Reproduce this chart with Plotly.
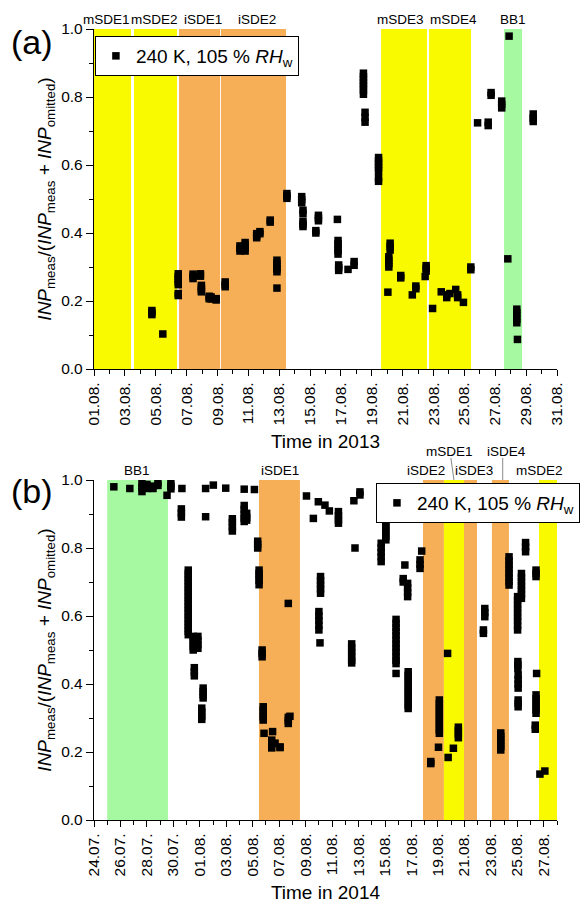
import pandas as pd
import plotly.graph_objects as go

# ---------------- Panel (a): 2013 campaign ----------------
# sampling times (one per group of consecutive samples) and measured ratios
time_2013 = [
    "2013-08-04 18:00", "2013-08-05 11:00", "2013-08-06 11:00", "2013-08-06 11:00",
    "2013-08-07 10:00", "2013-08-07 21:30", "2013-08-07 23:00", "2013-08-08 11:00",
    "2013-08-08 14:00", "2013-08-08 22:00", "2013-08-09 12:00", "2013-08-10 11:00",
    "2013-08-10 19:00", "2013-08-11 13:00", "2013-08-11 18:00", "2013-08-12 10:00",
    "2013-08-12 20:30", "2013-08-12 20:30", "2013-08-13 12:00", "2013-08-14 11:00",
    "2013-08-14 13:00", "2013-08-15 13:00", "2013-08-15 09:00", "2013-08-16 18:30",
    "2013-08-16 19:30", "2013-08-16 20:30", "2013-08-17 11:00", "2013-08-17 20:30",
    "2013-08-18 11:00", "2013-08-18 13:30", "2013-08-19 10:30", "2013-08-19 10:30",
    "2013-08-20 04:30", "2013-08-20 02:30", "2013-08-20 01:00", "2013-08-20 21:00",
    "2013-08-21 15:00", "2013-08-21 20:30", "2013-08-22 12:30", "2013-08-22 11:00",
    "2013-08-22 22:30", "2013-08-23 12:00", "2013-08-23 20:30", "2013-08-24 01:30",
    "2013-08-24 10:30", "2013-08-24 13:30", "2013-08-24 22:30", "2013-08-25 10:00",
    "2013-08-25 20:30", "2013-08-26 13:00", "2013-08-26 17:30", "2013-08-27 10:00",
    "2013-08-27 21:30", "2013-08-27 19:30", "2013-08-28 09:30", "2013-08-28 10:30",
    "2013-08-29 11:00",
]
ratio_2013 = [
    [0.172, 0.166, 0.160], [0.103], [0.280, 0.272, 0.264, 0.256, 0.248], [0.222, 0.216],
    [0.279, 0.272, 0.266], [0.280, 0.273], [0.246, 0.240, 0.233, 0.227], [0.214, 0.207],
    [0.212, 0.206], [0.207, 0.203], [0.256, 0.248, 0.242], [0.362, 0.355, 0.347],
    [0.372, 0.364, 0.355, 0.347], [0.398, 0.392, 0.386], [0.404, 0.398], [0.438, 0.432],
    [0.320, 0.311, 0.302, 0.294, 0.286], [0.238], [0.516, 0.509, 0.502], [0.507, 0.498, 0.489],
    [0.467, 0.458, 0.435, 0.426, 0.419], [0.452, 0.444, 0.436], [0.407, 0.400], [0.440],
    [0.378, 0.368, 0.358, 0.348, 0.338], [0.306, 0.298, 0.290], [0.293], [0.316, 0.305],
    [0.870, 0.860, 0.850, 0.840, 0.830, 0.820, 0.808], [0.755, 0.740, 0.726],
    [0.622, 0.612, 0.602, 0.592, 0.582], [0.562, 0.552],
    [0.370, 0.360, 0.350], [0.330, 0.320, 0.310, 0.300], [0.226], [0.275, 0.268],
    [0.218], [0.244, 0.236], [0.304, 0.296, 0.288], [0.272],
    [0.178], [0.227], [0.218, 0.210], [0.222],
    [0.234], [0.218, 0.210], [0.196], [0.300, 0.292],
    [0.724], [0.726, 0.716], [0.813, 0.805], [0.788, 0.778, 0.768],
    [0.979], [0.324], [0.176, 0.166, 0.156, 0.146, 0.136], [0.087],
    [0.750, 0.738, 0.728],
]

events_2013 = ["mSDE1", "mSDE2", "iSDE1", "iSDE2", "mSDE3", "mSDE4", "BB1"]
event_start_2013 = ["2013-08-01 00:00", "2013-08-03 14:10", "2013-08-06 12:15", "2013-08-09 05:30",
                    "2013-08-19 14:25", "2013-08-22 17:00", "2013-08-27 13:40"]
event_end_2013 = ["2013-08-03 09:35", "2013-08-06 09:05", "2013-08-09 04:05", "2013-08-13 10:35",
                  "2013-08-22 13:55", "2013-08-25 10:20", "2013-08-28 17:45"]

# ---------------- Panel (b): 2014 campaign ----------------
time_2014 = [
    "2014-07-25 12:00", "2014-07-26 17:00", "2014-07-27 15:00", "2014-07-28 00:00",
    "2014-07-28 11:00", "2014-07-28 20:00", "2014-07-29 12:30", "2014-07-29 19:30",
    "2014-07-30 15:30", "2014-07-30 14:30", "2014-07-31 03:00", "2014-07-31 12:00",
    "2014-07-31 20:30", "2014-07-31 14:00", "2014-08-01 06:00", "2014-08-01 03:30",
    "2014-08-01 10:30", "2014-08-01 10:30", "2014-08-02 00:30", "2014-08-02 23:00",
    "2014-08-03 11:00", "2014-08-04 08:30", "2014-08-05 03:00", "2014-08-04 08:30",
    "2014-08-04 13:00", "2014-08-05 09:00", "2014-08-05 11:30", "2014-08-05 17:00",
    "2014-08-05 19:00", "2014-08-05 20:30", "2014-08-06 12:00", "2014-08-06 10:30",
    "2014-08-06 16:30", "2014-08-07 01:30", "2014-08-07 16:30", "2014-08-07 16:30",
    "2014-08-07 19:30", "2014-08-09 01:30", "2014-08-09 14:00", "2014-08-09 23:00",
    "2014-08-10 11:00", "2014-08-10 19:00", "2014-08-11 11:30", "2014-08-10 03:00",
    "2014-08-10 00:00", "2014-08-10 02:00", "2014-08-12 11:30", "2014-08-12 17:30",
    "2014-08-12 15:30", "2014-08-13 02:30", "2014-08-14 17:00", "2014-08-15 01:30",
    "2014-08-15 20:00", "2014-08-15 20:00", "2014-08-16 12:00", "2014-08-16 09:00",
    "2014-08-16 17:00", "2014-08-16 18:00", "2014-08-17 18:30", "2014-08-17 15:30",
    "2014-08-18 11:00", "2014-08-19 02:30", "2014-08-19 01:00", "2014-08-19 17:30",
    "2014-08-19 18:30", "2014-08-20 04:00", "2014-08-20 13:00", "2014-08-22 10:30",
    "2014-08-22 13:00", "2014-08-23 18:00", "2014-08-24 09:00", "2014-08-25 00:30",
    "2014-08-25 01:00", "2014-08-25 01:30", "2014-08-25 01:30", "2014-08-25 07:30",
    "2014-08-25 15:00", "2014-08-26 10:00", "2014-08-26 11:00", "2014-08-26 10:00",
    "2014-08-26 08:30", "2014-08-26 17:00", "2014-08-27 02:00",
]
ratio_2014 = [
    [0.980], [0.975], [0.990, 0.978, 0.966], [0.987, 0.975],
    [0.982, 0.975], [0.992, 0.984], [0.955], [0.992, 0.982, 0.974],
    [0.975], [0.915, 0.903, 0.891],
    [0.735, 0.725, 0.715, 0.705, 0.695, 0.685, 0.675, 0.665, 0.655, 0.645,
     0.635, 0.625, 0.615, 0.605, 0.595, 0.585, 0.575, 0.565, 0.555, 0.545],
    [0.540, 0.530, 0.520, 0.510, 0.500],
    [0.540, 0.528, 0.516, 0.505], [0.448, 0.436, 0.424], [0.388, 0.378, 0.368, 0.359],
    [0.329, 0.318, 0.306, 0.296],
    [0.975], [0.892], [0.985], [0.976],
    [0.886, 0.875, 0.862, 0.850], [0.973], [0.972], [0.925, 0.913, 0.900, 0.888, 0.878],
    [0.902, 0.890, 0.882], [0.820, 0.810, 0.800], [0.735, 0.725, 0.715, 0.705, 0.692],
    [0.500, 0.490, 0.480],
    [0.333, 0.323, 0.313, 0.303, 0.294], [0.255], [0.260], [0.235, 0.224, 0.212],
    [0.226], [0.215, 0.213], [0.637], [0.302, 0.293, 0.284],
    [0.305], [0.953], [0.887], [0.936],
    [0.926], [0.909], [0.907, 0.895, 0.883, 0.873], [0.716, 0.704, 0.692, 0.680, 0.667],
    [0.613, 0.600, 0.587, 0.573, 0.559], [0.521], [0.518, 0.506, 0.494, 0.482, 0.470, 0.462],
    [0.800],
    [0.939], [0.965, 0.956], [0.814, 0.801, 0.788, 0.774, 0.760],
    [0.877, 0.866, 0.855, 0.845, 0.834, 0.824],
    [0.590, 0.578, 0.566, 0.554, 0.542, 0.530, 0.518, 0.506, 0.494, 0.482, 0.470, 0.460],
    [0.431], [0.750], [0.710, 0.700],
    [0.696, 0.683, 0.670, 0.657],
    [0.436, 0.426, 0.415, 0.404, 0.393, 0.382, 0.371, 0.360, 0.349, 0.338, 0.328],
    [0.791], [0.765, 0.752, 0.740],
    [0.172, 0.166], [0.353, 0.342, 0.331, 0.320, 0.309, 0.298, 0.287, 0.276, 0.265, 0.255],
    [0.214], [0.490],
    [0.184], [0.211], [0.273, 0.263, 0.252, 0.242], [0.559, 0.549],
    [0.622, 0.610, 0.598], [0.256, 0.246, 0.236, 0.226, 0.216, 0.206],
    [0.774, 0.762, 0.750, 0.738, 0.726, 0.714, 0.702, 0.691],
    [0.657, 0.645, 0.633, 0.621, 0.609, 0.597, 0.585, 0.572, 0.559],
    [0.466, 0.456, 0.446], [0.426, 0.413, 0.400, 0.388], [0.353, 0.343, 0.333],
    [0.725, 0.713, 0.701, 0.689, 0.677, 0.665, 0.652],
    [0.816, 0.803, 0.789], [0.735, 0.725, 0.716], [0.431], [0.368, 0.357, 0.346, 0.335, 0.324, 0.314],
    [0.279, 0.267], [0.135], [0.144],
]

events_2014 = ["BB1", "iSDE1", "iSDE2", "mSDE1", "iSDE3", "iSDE4", "mSDE2"]
event_start_2014 = ["2014-07-25 00:00", "2014-08-05 11:15", "2014-08-17 20:50", "2014-08-19 10:50",
                    "2014-08-20 23:15", "2014-08-23 01:55", "2014-08-26 15:20"]
event_end_2014 = ["2014-07-29 14:10", "2014-08-08 13:40", "2014-08-19 10:50", "2014-08-20 23:15",
                  "2014-08-21 22:50", "2014-08-24 08:50", "2014-08-28 00:00"]

# ---------------- styling ----------------
FONT = "Liberation Sans, Arial, sans-serif"
BAND_COLOURS = {"m": "#F9F900", "i": "#F6AF57", "B": "#A6F9A0"}
LEGEND_TEXT = "240 K, 105 % <i>RH</i><sub>w</sub>"
Y_TITLE = ("<i>INP</i><sub>meas</sub>/(<i>INP</i><sub>meas</sub> + "
           "<i>INP</i><sub>omitted</sub>)")

# label anchor times above the bands, and extra lift (px) for stacked labels
label_at_2013 = ["2013-08-01 18:40", "2013-08-04 22:50", "2013-08-08 01:30", "2013-08-11 13:30",
                 "2013-08-20 20:00", "2013-08-24 06:30", "2013-08-28 03:30"]
label_at_2014 = ["2014-07-27 06:00", "2014-08-07 01:30", "2014-08-18 02:30", "2014-08-19 21:30",
                 "2014-08-21 17:00", "2014-08-24 03:30", "2014-08-26 16:30"]
lift_2014 = [0, 0, 0, 19, 0, 19, 0]


def expand(times, groups):
    xs, ys = [], []
    for t, vals in zip(times, groups):
        for v in vals:
            xs.append(pd.Timestamp(t))
            ys.append(v)
    return xs, ys


x13, y13 = expand(time_2013, ratio_2013)
x14, y14 = expand(time_2014, ratio_2014)

fig = go.Figure()
marker = dict(symbol="square", size=7.5, color="black", line=dict(width=0))
fig.add_trace(go.Scatter(x=x13, y=y13, mode="markers", marker=marker, name=LEGEND_TEXT,
                         xaxis="x", yaxis="y", legend="legend"))
fig.add_trace(go.Scatter(x=x14, y=y14, mode="markers", marker=marker, name=LEGEND_TEXT,
                         xaxis="x2", yaxis="y2", legend="legend2"))

shapes, annotations = [], []


def add_events(names, starts, ends, label_at, lifts, xref, yref):
    for name, s, e, la, lift in zip(names, starts, ends, label_at, lifts):
        shapes.append(dict(type="rect", xref=xref, yref=f"{yref} domain", x0=s, x1=e, y0=0, y1=1,
                           fillcolor=BAND_COLOURS[name[0]], line=dict(width=0), layer="below"))
        annotations.append(dict(text=name, xref=xref, yref=f"{yref} domain", x=la, y=1,
                                yanchor="middle", yshift=10 + lift, showarrow=False,
                                font=dict(family=FONT, size=13.5, color="black")))


add_events(events_2013, event_start_2013, event_end_2013, label_at_2013, [0] * 7, "x", "y")
add_events(events_2014, event_start_2014, event_end_2014, label_at_2014, lift_2014, "x2", "y2")

# leader lines for the two raised labels in panel (b)
for xa, xb in [("2014-08-19 23:30", "2014-08-20 05:00"), ("2014-08-23 21:30", "2014-08-23 21:30")]:
    shapes.append(dict(type="line", xref="x2", yref="y2 domain", x0=xa, x1=xb,
                       y0=1 + 22 / 340, y1=1.0, line=dict(color="#8a8a8a", width=1)))

# panel letters
for letter, yp in [("(a)", 0.9836), ("(b)", 0.4159)]:
    annotations.append(dict(text=letter, xref="paper", yref="paper", x=0, y=yp, xshift=-62,
                            xanchor="center", yanchor="middle", showarrow=False,
                            font=dict(family=FONT, size=34, color="black")))

DAY_MS = 86400000
tick_font = dict(family=FONT, size=15.5, color="black")
title_font = dict(family=FONT, size=19, color="black")


def x_axis(rng, title, anchor):
    return dict(type="date", range=rng, anchor=anchor, domain=[0, 1],
                tick0=rng[0], dtick=2 * DAY_MS, tickformat="%d.%m.", tickangle=-90,
                ticks="outside", ticklen=6, tickwidth=1.3, tickcolor="black",
                minor=dict(tick0=rng[0], dtick=DAY_MS, ticks="outside", ticklen=3.5,
                           tickwidth=1.3, tickcolor="black", showgrid=False),
                showline=True, linecolor="black", linewidth=1.3, showgrid=False,
                zeroline=False, tickfont=tick_font,
                title=dict(text=title, font=title_font, standoff=10))


def y_axis(domain, anchor):
    return dict(range=[0, 1], domain=domain, anchor=anchor, dtick=0.2, tick0=0,
                tickformat=".1f", ticks="outside", ticklen=7, tickwidth=1.3, tickcolor="black",
                minor=dict(dtick=0.1, ticks="outside", ticklen=4, tickwidth=1.3,
                           tickcolor="black", showgrid=False),
                showline=True, linecolor="black", linewidth=1.3, showgrid=False,
                zeroline=False, tickfont=tick_font,
                title=dict(text=Y_TITLE, font=title_font, standoff=4))


legend_style = dict(bgcolor="white", bordercolor="black", borderwidth=1,
                    font=dict(family=FONT, size=19, color="black"),
                    xanchor="left", yanchor="top", itemsizing="trace")

fig.update_layout(
    width=581, height=905,
    margin=dict(l=94, r=24, t=29, b=85, autoexpand=False),
    paper_bgcolor="white", plot_bgcolor="white",
    font=dict(family=FONT, color="black"),
    xaxis=x_axis(["2013-08-01", "2013-08-31"], "Time in 2013", "y"),
    yaxis=y_axis([1 - 340 / 791, 1], "x"),
    xaxis2=x_axis(["2014-07-24", "2014-08-28"], "Time in 2014", "y2"),
    yaxis2=y_axis([0, 340 / 791], "x2"),
    legend=dict(x=0.002, y=1 - 7 / 791, **legend_style),
    legend2=dict(x=0.609, y=1 - 454 / 791, **legend_style),
    shapes=shapes,
    annotations=annotations,
    showlegend=True,
)

fig.write_html("out.html")
